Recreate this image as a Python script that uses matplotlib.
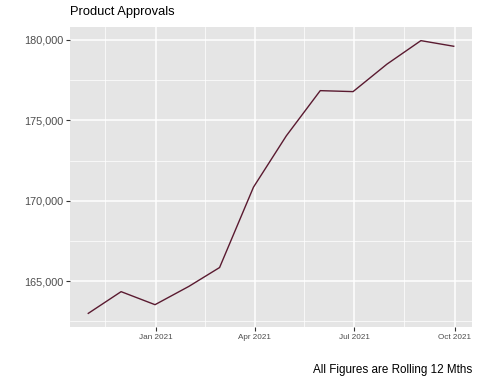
import matplotlib
matplotlib.use("Agg")
import matplotlib.pyplot as plt
import matplotlib.dates as mdates
from matplotlib.ticker import FuncFormatter, MultipleLocator
import pandas as pd

# month-end dates, rolling 12 month approvals
dates = pd.to_datetime([
    "2020-10-31", "2020-11-30", "2020-12-31", "2021-01-31", "2021-02-28",
    "2021-03-31", "2021-04-30", "2021-05-31", "2021-06-30", "2021-07-31",
    "2021-08-31", "2021-09-30",
])
approvals = [163000, 164350, 163540, 164680, 165850, 170850,
             174040, 176850, 176790, 178500, 179960, 179610]
x_ticks = pd.to_datetime(["2021-01-01", "2021-04-01", "2021-07-01", "2021-10-01"])
x_minor = pd.to_datetime(["2020-11-15", "2021-02-15", "2021-05-16", "2021-08-16"])

plt.rcParams["font.family"] = ["Liberation Sans", "DejaVu Sans"]

fig = plt.figure(figsize=(4.8, 3.84), dpi=100)
ax = fig.add_axes([70 / 480, 1 - 327 / 384, 402 / 480, 300 / 384])
ax.set_facecolor("#e5e5e5")

ax.plot(dates, approvals, color="#5a1a30", lw=1.0, zorder=3)

# ggplot-style 5% expansion
span = dates[-1] - dates[0]
ax.set_xlim(dates[0] - span * 0.05, dates[-1] + span * 0.05)
lo, hi = min(approvals), max(approvals)
pad = (hi - lo) * 0.05
ax.set_ylim(lo - pad, hi + pad)

ax.set_xticks(x_ticks)
ax.set_xticks(x_minor, minor=True)
ax.xaxis.set_major_formatter(mdates.DateFormatter("%b %Y"))
ax.yaxis.set_major_locator(MultipleLocator(5000))
ax.yaxis.set_minor_locator(MultipleLocator(2500))
ax.yaxis.set_major_formatter(FuncFormatter(lambda v, p: f"{v:,.0f}"))

ax.grid(True, which="major", color="white", lw=1.1, zorder=0)
ax.grid(True, which="minor", color="white", lw=0.5, zorder=0)
ax.set_axisbelow(True)
for s in ax.spines.values():
    s.set_visible(False)

ax.tick_params(axis="both", which="major", length=3, width=0.8, color="#333333",
               pad=2)
ax.tick_params(axis="both", which="minor", length=0)
ax.tick_params(axis="y", labelsize=7.8, labelcolor="#4d4d4d")
ax.tick_params(axis="x", labelsize=5.9, labelcolor="#4d4d4d")

fig.text(70 / 480, 1 - 12 / 384, "Product Approvals", fontsize=9.3,
         ha="left", va="center")
fig.text(472 / 480, 1 - 370 / 384, "All Figures are Rolling 12 Mths",
         fontsize=8.4, ha="right", va="center")

fig.savefig("out.png", dpi=100)
